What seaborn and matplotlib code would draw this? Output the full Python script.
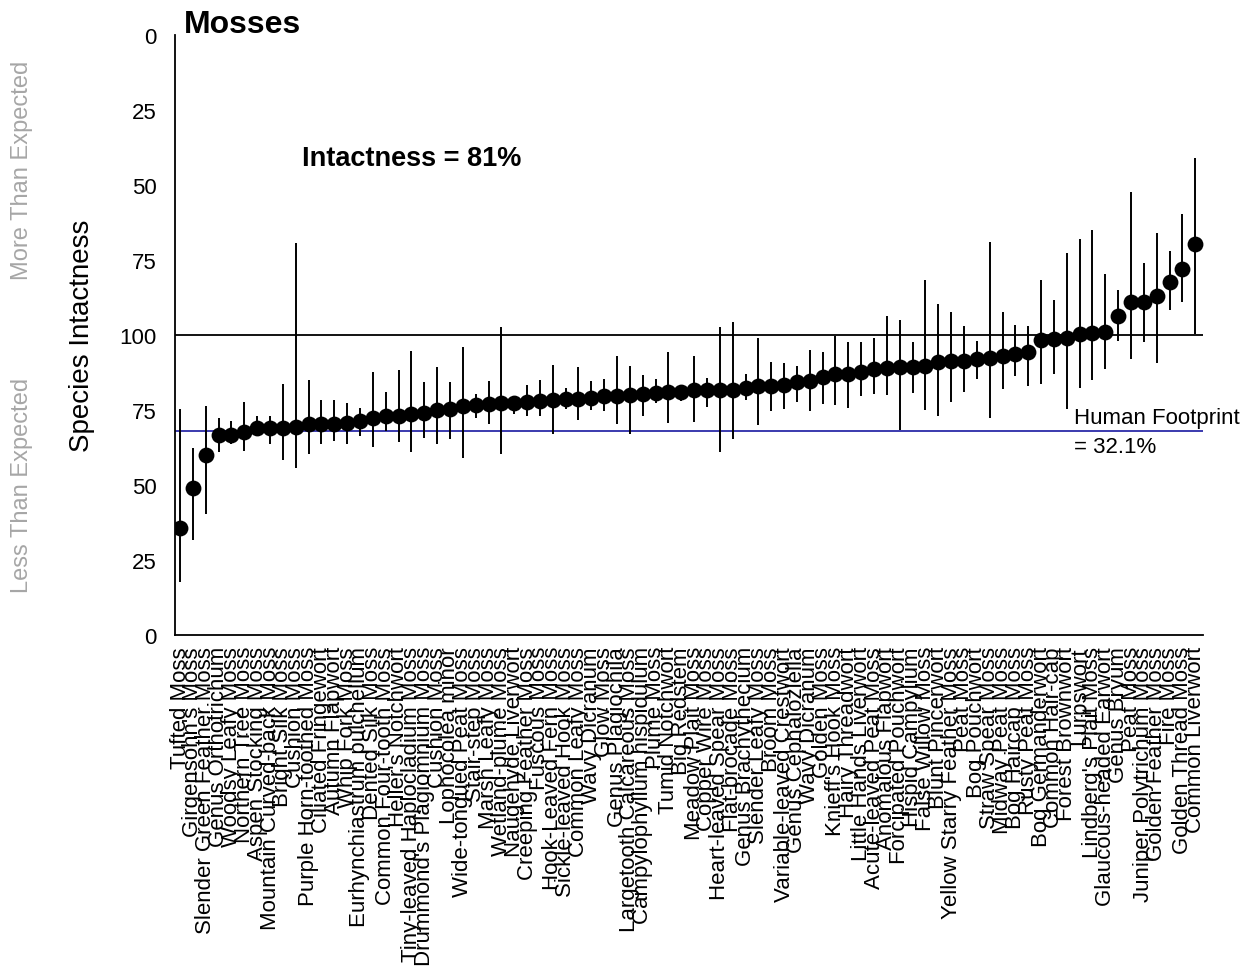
import numpy as np
import pandas as pd
import matplotlib
matplotlib.use('Agg')
import matplotlib.pyplot as plt
import seaborn as sns

species = [
    "Tufted Moss", "Girgensohn's Moss", "Slender Green Feather Moss", "Genus Orthotrichum",
    "Woodsy Leafy Moss", "Northern Tree Moss", "Aspen Stocking Moss", "Mountain Curved-back Moss",
    "Bright Silk Moss", "Cushion Moss", "Purple Horn-toothed Moss", "Ciliated Fringewort",
    "Autumn Flapwort", "Whip Fork Moss", "Eurhynchiastrum pulchellum", "Dented Silk Moss",
    "Common Four-tooth Moss", "Heller's Notchwort", "Tiny-leaved Haplocladium Moss",
    "Drummond's Plagiomnium Moss", "Cushion Moss", "Lophocolea minor", "Wide-tongued Peat Moss",
    "Stair-step Moss", "Marsh Leafy Moss", "Wetland-plume Moss", "Naugehyde Liverwort",
    "Creeping Feather Moss", "Fuscous Moss", "Hook-Leaved Fern Moss", "Sickle-leaved Hook Moss",
    "Common Leafy Moss", "Wavy Dicranum", "Glow Moss", "Genus Plagiochila",
    "Largetooth Calcareous Moss", "Campylophyllum hispidulum", "Plume Moss", "Tumid Notchwort",
    "Big Redstem", "Meadow Plait Moss", "Copper Wire Moss", "Heart-leaved Spear Moss",
    "Flat-brocade Moss", "Genus Brachythecium", "Slender Leafy Moss", "Broom Moss",
    "Variable-leaved Crestwort", "Genus Cephaloziella", "Wavy Dicranum", "Golden Moss",
    "Knieff's Hook Moss", "Hairy Threadwort", "Little Hands Liverwort", "Acute-leaved Peat Moss",
    "Anomalous Flapwort", "Forcipated Pouchwort", "Hispid Campylium", "False Willow Moss",
    "Blunt Pincerwort", "Yellow Starry Feather Moss", "Peat Moss", "Bog Pouchwort",
    "Straw Spear Moss", "Midway Peat Moss", "Bog Haircap Moss", "Rusty Peat Moss",
    "Bog Germanderwort", "Common Hair-cap", "Forest Brownwort", "Lurpswort",
    "Lindberg's Plait Moss", "Glaucous-headed Earwort", "Genus Bryum", "Peat Moss",
    "Juniper Polytrichum Moss", "Golden Feather Moss", "Fire Moss", "Golden Thread Moss",
    "Common Liverwort",
]

# plotted on a 0-200 scale, 100 = as expected
intactness = [
    35.7, 49.0, 60.0, 66.7, 66.7, 67.7, 69.0, 69.0, 69.0, 69.3,
    70.3, 70.3, 70.3, 70.7, 71.3, 72.3, 73.0, 73.0, 73.7, 74.0,
    75.0, 75.3, 76.3, 76.5, 77.0, 77.3, 77.3, 77.7, 78.0, 78.3,
    78.5, 78.5, 79.0, 79.7, 79.7, 80.0, 80.3, 80.5, 81.0, 81.0,
    81.7, 81.7, 81.8, 81.8, 82.3, 83.0, 83.0, 83.3, 84.3, 84.7,
    86.0, 87.0, 87.0, 87.7, 88.7, 89.0, 89.3, 89.3, 89.5, 91.0,
    91.3, 91.3, 92.0, 92.3, 93.0, 93.7, 94.3, 98.3, 98.7, 99.0,
    100.3, 100.7, 101.0, 106.3, 111.0, 111.0, 113.0, 117.7, 122.0, 130.3,
]
upper = [
    75.3, 62.3, 76.3, 72.3, 71.3, 77.7, 73.0, 73.0, 83.7, 130.7,
    85.0, 78.3, 78.3, 77.3, 75.7, 87.7, 81.0, 88.3, 94.7, 84.3,
    89.3, 84.3, 96.0, 80.3, 84.7, 102.7, 79.7, 83.3, 85.0, 90.0,
    82.3, 89.3, 84.7, 85.3, 93.0, 89.7, 86.7, 85.3, 94.3, 83.3,
    93.0, 85.7, 102.7, 104.3, 87.0, 99.0, 91.0, 90.7, 89.7, 95.0,
    94.3, 99.7, 97.7, 97.7, 99.0, 106.3, 105.0, 97.7, 118.3, 110.3,
    107.7, 103.0, 98.0, 131.0, 107.7, 103.3, 103.0, 118.3, 111.7, 127.3,
    132.0, 135.0, 120.3, 115.0, 147.7, 124.0, 134.0, 128.0, 140.3, 159.0,
]
lower = [
    17.7, 31.7, 40.3, 61.0, 63.7, 61.3, 66.3, 63.7, 58.3, 55.7,
    60.3, 63.7, 64.7, 63.7, 66.3, 62.7, 68.0, 64.3, 61.0, 65.7,
    63.7, 65.3, 59.0, 72.3, 70.3, 60.3, 73.7, 73.0, 73.0, 67.0,
    75.3, 71.7, 75.0, 74.7, 70.3, 67.0, 73.0, 77.3, 70.7, 78.0,
    71.0, 76.0, 61.0, 65.3, 78.3, 70.0, 74.7, 75.3, 77.7, 74.7,
    77.0, 76.7, 75.7, 79.7, 80.3, 80.0, 68.3, 80.7, 75.0, 73.0,
    77.7, 81.0, 85.3, 72.3, 82.0, 86.3, 83.0, 83.7, 87.0, 75.3,
    82.3, 85.0, 88.7, 98.0, 92.0, 97.7, 90.7, 108.3, 111.0, 100.3,
]

y_ticks = [0, 25, 50, 75, 100, 125, 150, 175, 200]
y_tick_labels = ["0", "25", "50", "75", "100", "75", "50", "25", "0"]
expected = 100
footprint = 32.1
overall = 81

df = pd.DataFrame({
    "pos": np.arange(len(species)),
    "species": species,
    "intactness": intactness,
    "lower": lower,
    "upper": upper,
})

sns.set_style("white")
plt.rcParams['font.family'] = ['Liberation Sans', 'DejaVu Sans']
plt.rcParams['text.color'] = 'black'
plt.rcParams['axes.labelcolor'] = 'black'
plt.rcParams['xtick.color'] = 'black'
plt.rcParams['ytick.color'] = 'black'

fig = plt.figure(figsize=(12.47, 9.78), dpi=100)
ax = fig.add_axes([0.1403, 0.3497, 0.8244, 0.6135])

ax.axhline(expected, color='black', lw=1.3, zorder=1)
ax.axhline(100 - footprint, color='#2b2ba8', lw=1.3, zorder=1)

ax.vlines(df["pos"], df["lower"], df["upper"], color='black', lw=1.4, zorder=2)
sns.scatterplot(data=df, x="pos", y="intactness", ax=ax, color='black',
                s=130, edgecolor='black', linewidth=0, zorder=3, legend=False)

ax.set_xlim(-0.4, len(species) - 0.4)
ax.set_ylim(0, 200)
ax.set_yticks(y_ticks)
ax.set_yticklabels(y_tick_labels, fontsize=16)
ax.set_xticks(df["pos"])
ax.set_xticklabels(df["species"], rotation=90, fontsize=16)
ax.tick_params(axis='y', direction='out', length=7, width=1.2, color='black', pad=6)
ax.tick_params(axis='x', direction='out', length=6, width=1.2, color='black', pad=2)
ax.set_xlabel("")
ax.set_ylabel("Species Intactness", fontsize=20, labelpad=18)

sns.despine(ax=ax)
for side in ['left', 'bottom']:
    ax.spines[side].set_color('black')
    ax.spines[side].set_linewidth(1.3)

ax.text(0.3, 203.8, "Mosses", fontsize=23, fontweight='bold', va='center', ha='left',
        clip_on=False)
ax.text(0.124, 0.795, f"Intactness = {overall}%", transform=ax.transAxes,
        fontsize=19.5, fontweight='bold', va='center', ha='left')
ax.text(69.6, 100 - footprint + 1.2, "Human Footprint", fontsize=16, va='bottom', ha='left')
ax.text(69.6, 100 - footprint - 1.5, "= 32.1%", fontsize=16, va='top', ha='left')

fig.text(0.018, 0.826, "More Than Expected", rotation=90, color='#a6a6a6',
         fontsize=17, ha='center', va='center')
fig.text(0.018, 0.504, "Less Than Expected", rotation=90, color='#a6a6a6',
         fontsize=17, ha='center', va='center')

fig.savefig("out.png", dpi=100)
